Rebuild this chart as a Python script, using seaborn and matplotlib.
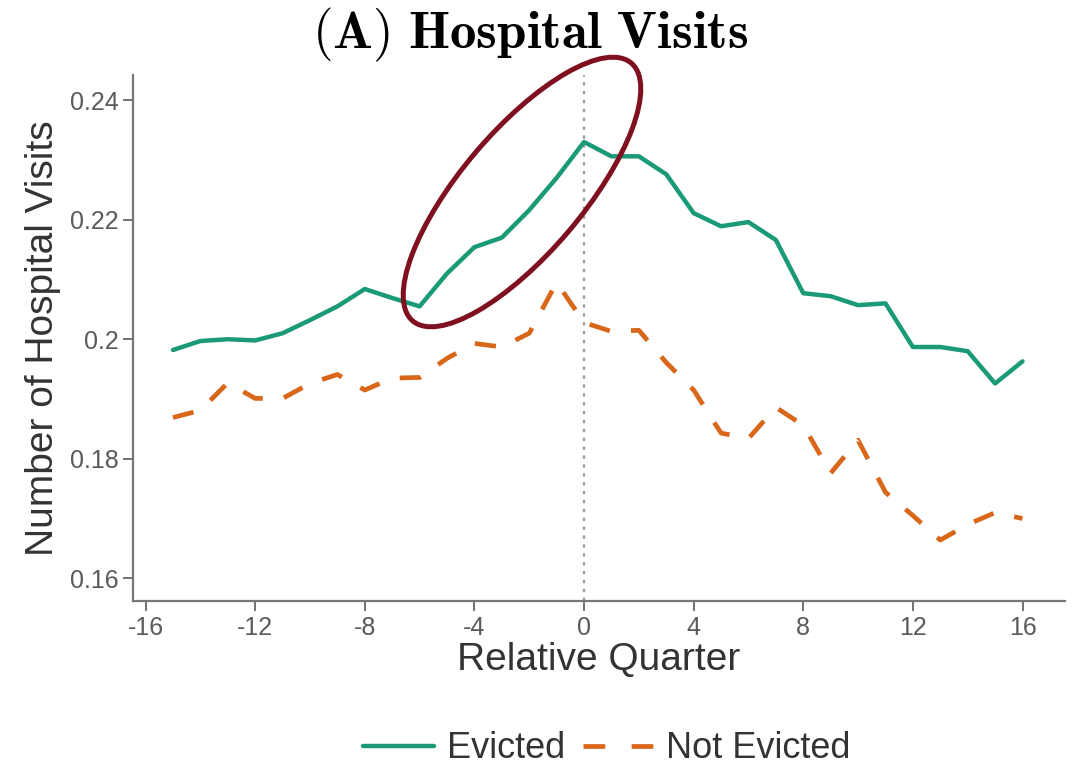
"""Hospital visits around eviction, evicted vs not evicted."""
import matplotlib
matplotlib.use('Agg')
import matplotlib.pyplot as plt
import matplotlib.transforms as mtransforms
from matplotlib.patches import Ellipse
from matplotlib.lines import Line2D
import numpy as np
import pandas as pd
import seaborn as sns

quarters = list(range(-15, 17))
evicted = [0.1982, 0.1997, 0.2000, 0.1998, 0.2010, 0.2032, 0.2055, 0.2084,
           0.2069, 0.2055, 0.2110, 0.2154, 0.2170, 0.2216, 0.2270, 0.2330,
           0.2306, 0.2306, 0.2276, 0.2211, 0.2189, 0.2196, 0.2166, 0.2077,
           0.2072, 0.2057, 0.2060, 0.1987, 0.1987, 0.1980, 0.1926, 0.1963]
not_evicted = [0.1869, 0.1881, 0.1927, 0.1901, 0.1901, 0.1926, 0.1941, 0.1915,
               0.1935, 0.1936, 0.1968, 0.1993, 0.1987, 0.2010, 0.2095, 0.2028,
               0.2013, 0.2015, 0.1961, 0.1915, 0.1843, 0.1834, 0.1886, 0.1856,
               0.1776, 0.1831, 0.1744, 0.1705, 0.1664, 0.1690, 0.1710, 0.1700]
y_ticks = [0.16, 0.18, 0.2, 0.22, 0.24]
y_tick_labels = ['0.16', '0.18', '0.2', '0.22', '0.24']
x_ticks = list(range(-16, 17, 4))

GREEN = '#1b9a77'
ORANGE = '#d8671a'
GRAY = '#666666'

sns.set_theme(style='ticks')
plt.rcParams['font.family'] = ['Liberation Sans', 'DejaVu Sans']
plt.rcParams['mathtext.fontset'] = 'cm'

df = pd.DataFrame({'quarter': quarters, 'evicted': evicted,
                   'not_evicted': not_evicted})

fig = plt.figure(figsize=(10.74, 7.68), dpi=100)
ax = fig.add_axes([0.1238, 0.2174, 0.8678, 0.6849])

ax.axvline(0, color='#999999', linestyle=(0, (1.5, 2.5)), linewidth=1.6,
           zorder=1)
sns.lineplot(data=df, x='quarter', y='evicted', ax=ax, color=GREEN,
             linewidth=3.2, zorder=3)
sns.lineplot(data=df, x='quarter', y='not_evicted', ax=ax, color=ORANGE,
             linewidth=3.4, linestyle=(0, (4.5, 4.5)), zorder=3)

ax.set_xlim(-16.46, 17.55)
ax.set_ylim(0.1562, 0.2442)
ax.set_xticks(x_ticks)
ax.set_xticklabels([str(t) for t in x_ticks])
ax.set_yticks(y_ticks)
ax.set_yticklabels(y_tick_labels)
ax.tick_params(axis='both', colors=GRAY, labelsize=18, length=7, width=1.3,
               labelcolor='#5a5a5a')
for side in ['top', 'right']:
    ax.spines[side].set_visible(False)
for side in ['left', 'bottom']:
    ax.spines[side].set_color('#777777')
    ax.spines[side].set_linewidth(1.6)

ax.set_xlabel('Relative Quarter', fontsize=28, color='#333333', labelpad=2)
ax.set_ylabel('Number of Hospital Visits', fontsize=28, color='#333333',
              labelpad=6)

fig.text(0.494, 0.954, r'$\mathbf{(A)\ Hospital\ Visits}$', fontsize=38,
         ha='center', va='center', color='black')

# highlight ellipse drawn in pixel space
ell = Ellipse((522, 768 - 192), 338, 122, angle=49.7, fill=False,
              edgecolor='#7f1020', linewidth=3.6,
              transform=mtransforms.IdentityTransform(), clip_on=False,
              zorder=5)
fig.add_artist(ell)

handles = [Line2D([], [], color=GREEN, linewidth=3.2),
           Line2D([], [], color=ORANGE, linewidth=3.4,
                  linestyle=(0, (4.6, 5.6)))]
fig.legend(handles, ['Evicted', 'Not Evicted'], loc='center',
           bbox_to_anchor=(0.565, 0.025), ncol=2, frameon=False,
           fontsize=26, handlelength=1.95, columnspacing=0.5,
           handletextpad=0.35, labelcolor='#333333')

fig.savefig('out.png', dpi=100)
